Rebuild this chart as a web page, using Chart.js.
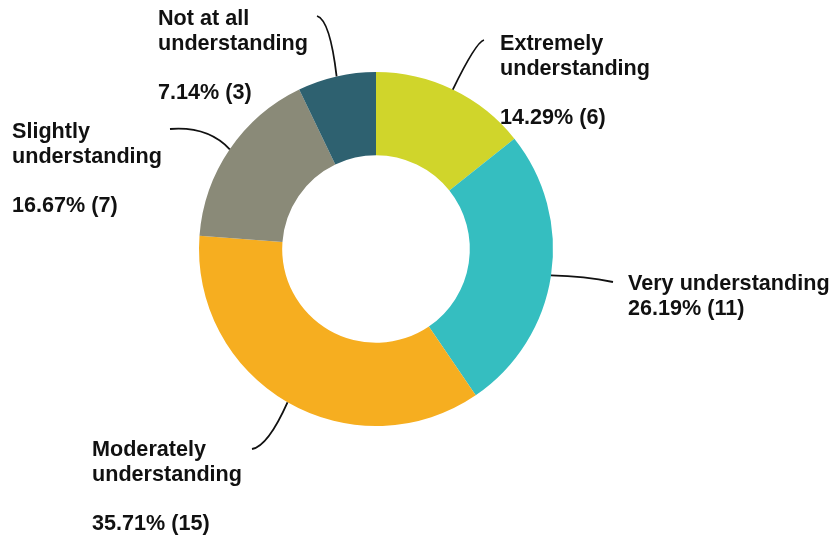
<!DOCTYPE html>
<html lang="en">
<head>
  <meta charset="UTF-8">
  <title>Understanding</title>
  <script src="https://cdn.jsdelivr.net/npm/chart.js"></script>
  <style>
    html, body { margin: 0; padding: 0; background: #fff; }
    #wrap { width: 836px; height: 541px; }
  </style>
</head>
<body>
  <div id="wrap"><canvas id="donut" width="836" height="541"></canvas></div>

  <script>
    // data
    const categories = ['Extremely understanding', 'Very understanding', 'Moderately understanding', 'Slightly understanding', 'Not at all understanding'];
    const counts = [6, 11, 15, 7, 3];
    const sliceColors = ['#D0D52B', '#35BEC0', '#F6AE20', '#8A8A78', '#2E6170'];

    // label placement (text block + where the leader line ends)
    const labelLayout = [
      { x: 500, y: 50,  lines: ['Extremely', 'understanding', ''], end: [484, 40],  ctrl: [476, 42] },
      { x: 628, y: 290, lines: ['Very understanding'],              end: [613, 282], ctrl: [585, 276] },
      { x: 92,  y: 456, lines: ['Moderately', 'understanding', ''], end: [252, 449], ctrl: [268, 446] },
      { x: 12,  y: 138, lines: ['Slightly', 'understanding', ''],   end: [170, 129], ctrl: [208, 126] },
      { x: 158, y: 25,  lines: ['Not at all', 'understanding', ''], end: [317, 16],  ctrl: [330, 20] }
    ];

    const total = counts.reduce((a, b) => a + b, 0);
    const labelFont = 'bold 21.6px "Liberation Sans", Arial, sans-serif';

    // leader lines + labels drawn after the arcs
    const calloutPlugin = {
      id: 'callouts',
      afterDraw(chart) {
        const ctx = chart.ctx;
        const meta = chart.getDatasetMeta(0);
        ctx.save();
        meta.data.forEach((arc, i) => {
          const lay = labelLayout[i];
          const mid = (arc.startAngle + arc.endAngle) / 2;
          const sx = arc.x + Math.cos(mid) * arc.outerRadius;
          const sy = arc.y + Math.sin(mid) * arc.outerRadius;

          ctx.beginPath();
          ctx.moveTo(sx, sy);
          ctx.quadraticCurveTo(lay.ctrl[0], lay.ctrl[1], lay.end[0], lay.end[1]);
          ctx.strokeStyle = '#111';
          ctx.lineWidth = 1.8;
          ctx.stroke();

          const pct = (counts[i] / total * 100).toFixed(2) + '% (' + counts[i] + ')';
          const lines = lay.lines.concat([pct]);
          ctx.fillStyle = '#111';
          ctx.font = labelFont;
          ctx.textAlign = 'left';
          ctx.textBaseline = 'alphabetic';
          lines.forEach((t, k) => {
            if (t) ctx.fillText(t, lay.x, lay.y + k * 24.5);
          });
        });
        ctx.restore();
      }
    };

    new Chart(document.getElementById('donut'), {
      type: 'doughnut',
      data: {
        labels: categories,
        datasets: [{
          data: counts,
          backgroundColor: sliceColors,
          borderWidth: 0
        }]
      },
      options: {
        responsive: false,
        animation: false,
        cutout: '53%',
        layout: { padding: { top: 72, bottom: 115, left: 199, right: 283 } },
        plugins: {
          legend: { display: false },
          tooltip: { enabled: false }
        }
      },
      plugins: [calloutPlugin]
    });
  </script>
</body>
</html>
